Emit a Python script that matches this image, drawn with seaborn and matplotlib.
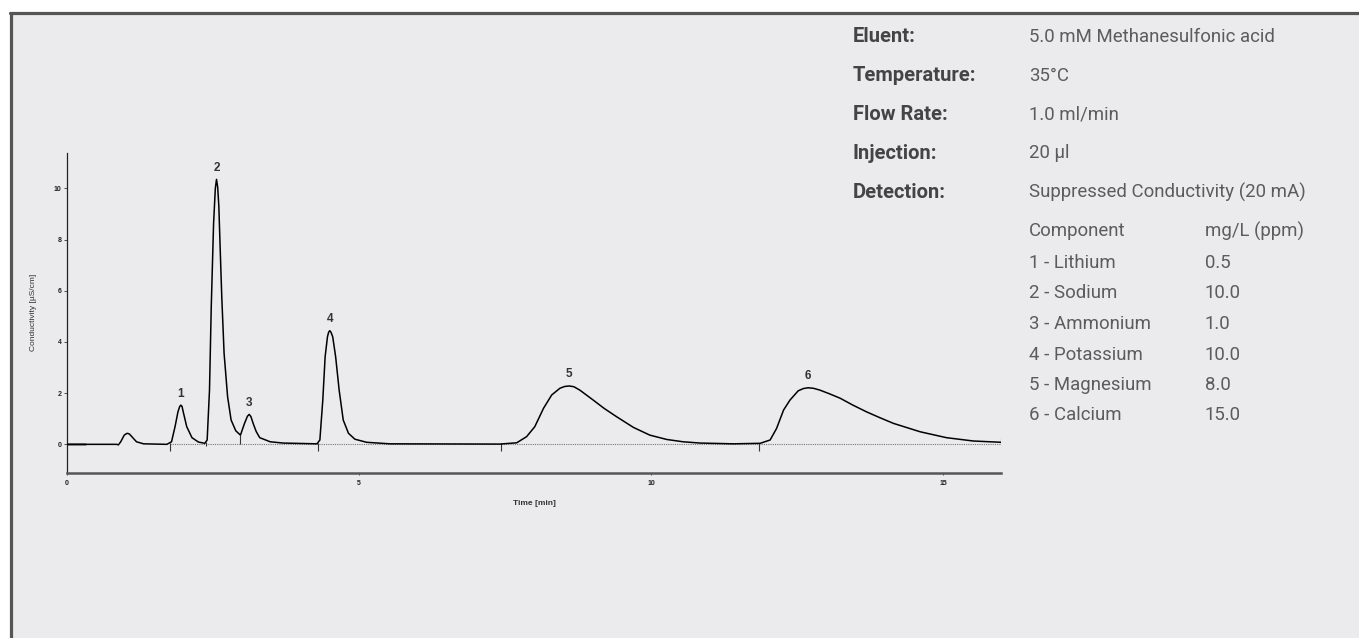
import matplotlib
matplotlib.use("Agg")
import matplotlib.pyplot as plt
import seaborn as sns
import pandas as pd
from matplotlib.patches import Rectangle
from matplotlib.lines import Line2D

# Chromatogram trace (time in min, conductivity in uS/cm)
trace_time = [0.0, 0.85, 0.88, 0.92, 0.98, 1.02, 1.04, 1.07, 1.11, 1.19, 1.31, 1.71,
              1.79, 1.85, 1.90, 1.93, 1.95, 1.97, 1.99, 2.05, 2.14, 2.25, 2.36,
              2.40, 2.44, 2.47, 2.51, 2.54, 2.56, 2.58, 2.60, 2.62, 2.65, 2.69, 2.75,
              2.81, 2.89, 2.97,
              3.04, 3.09, 3.12, 3.15, 3.19, 3.24, 3.30, 3.48, 3.70, 4.28,
              4.33, 4.38, 4.42, 4.46, 4.48, 4.50, 4.52, 4.55, 4.60, 4.66, 4.73, 4.82, 4.93,
              5.13, 5.53, 7.41,
              7.70, 7.87, 8.01, 8.16, 8.30, 8.44, 8.52, 8.60, 8.68, 8.78, 9.01, 9.20, 9.41,
              9.70, 9.98, 10.27, 10.55, 10.84, 11.41, 11.87,
              12.04, 12.15, 12.27, 12.38, 12.52, 12.61, 12.69, 12.78, 12.89, 13.05, 13.24,
              13.45, 13.69, 13.92, 14.15, 14.61, 15.06, 15.52, 16.00]
trace_signal = [0.0, 0.0, -0.02, 0.10, 0.36, 0.42, 0.43, 0.40, 0.30, 0.10, 0.02, 0.0,
                0.10, 0.69, 1.27, 1.48, 1.53, 1.48, 1.27, 0.69, 0.26, 0.09, 0.04,
                0.17, 2.12, 5.37, 8.63, 10.0, 10.35, 10.05, 9.30, 7.85, 5.77, 3.55, 1.86,
                0.95, 0.53, 0.36,
                0.82, 1.10, 1.17, 1.08, 0.80, 0.50, 0.26, 0.10, 0.05, 0.02,
                0.17, 1.73, 3.42, 4.20, 4.38, 4.44, 4.38, 4.20, 3.42, 2.12, 0.95, 0.43, 0.20,
                0.08, 0.02, 0.01,
                0.06, 0.30, 0.69, 1.41, 1.93, 2.19, 2.26, 2.28, 2.25, 2.12, 1.73, 1.40, 1.08,
                0.66, 0.36, 0.19, 0.10, 0.05, 0.02, 0.04,
                0.17, 0.62, 1.34, 1.73, 2.09, 2.18, 2.21, 2.19, 2.12, 1.98, 1.80,
                1.54, 1.27, 1.04, 0.82, 0.49, 0.26, 0.13, 0.08]

# peak labels
peak_ids = ["1", "2", "3", "4", "5", "6"]
peak_time = [1.95, 2.56, 3.12, 4.50, 8.60, 12.69]
peak_height = [1.53, 10.35, 1.17, 4.44, 2.28, 2.21]

# integration markers (small vertical ticks along the baseline)
marker_time = [1.76, 2.38, 2.97, 4.30, 7.44, 11.85, 16.0]
marker_low = [-0.25, -0.05, 0.0, -0.25, -0.25, -0.25, 0.0]
marker_high = [0.05, 0.10, 0.36, 0.05, 0.05, 0.05, 0.25]

# conditions table
cond_labels = ["Eluent:", "Temperature:", "Flow Rate:", "Injection:", "Detection:"]
cond_values = ["5.0 mM Methanesulfonic acid", "35°C", "1.0 ml/min", "20 µl",
               "Suppressed Conductivity (20 mA)"]
comp_names = ["1 - Lithium", "2 - Sodium", "3 - Ammonium", "4 - Potassium",
              "5 - Magnesium", "6 - Calcium"]
comp_conc = ["0.5", "10.0", "1.0", "10.0", "8.0", "15.0"]

sns.set_theme(style="ticks")
txt_font = ["Roboto", "DejaVu Sans"]
plt.rcParams["font.family"] = ["Liberation Sans", "DejaVu Sans"]

W, H = 1359, 638
fig = plt.figure(figsize=(W / 100, H / 100), dpi=100)
fig.patch.set_facecolor("white")

# grey panel with dark border on top and left
fig.patches.append(Rectangle((11 / W, 0), 1, (H - 13) / H, transform=fig.transFigure,
                             facecolor="#ebebed", edgecolor="none", zorder=-10))
fig.lines.append(Line2D([10 / W, 1], [(H - 13) / H] * 2, transform=fig.transFigure,
                        color="#555555", lw=2.3))
fig.lines.append(Line2D([11 / W] * 2, [0, (H - 13) / H], transform=fig.transFigure,
                        color="#555555", lw=2.3))

ax = fig.add_axes([67 / W, (H - 472.5) / H, (1001.4 - 67) / W, 320 / H])
ax.set_facecolor("none")

df = pd.DataFrame({"time": trace_time, "signal": trace_signal})
ax.axhline(0, xmin=1.76 / 16, xmax=1, color="#777777", lw=0.8, ls=(0, (1, 1)), zorder=1)
ax.plot([0, 0.3], [0, 0], color="#888888", lw=2, zorder=1)
sns.lineplot(data=df, x="time", y="signal", ax=ax, color="black", lw=1.1,
             estimator=None, sort=False, zorder=3)
ax.vlines(marker_time, marker_low, marker_high, color="#333333", lw=0.8, zorder=2)

for lab, t, h in zip(peak_ids, peak_time, peak_height):
    ax.annotate(lab, (t, h), xytext=(0, 4), textcoords="offset points",
                ha="center", va="bottom", fontsize=8.5, fontweight="bold", color="#333333")

ax.set_xlim(0, 16)
ax.set_ylim(-1.1, 11.4)
ax.set_xticks([0, 5, 10, 15])
ax.set_yticks([0, 2, 4, 6, 8, 10])
for lbl in ax.get_xticklabels() + ax.get_yticklabels():
    lbl.set_fontsize(5)
    lbl.set_fontweight("bold")
    lbl.set_color("#222222")
ax.tick_params(axis="y", length=2, width=0.6, pad=2, color="#333333")
ax.tick_params(axis="x", length=1.5, width=0.6, pad=4, color="#333333")
ax.set_xlabel("Time [min]", fontsize=6, fontweight="bold", color="#333333", labelpad=9)
ax.set_ylabel("Conductivity [µS/cm]", fontsize=6, color="#333333", labelpad=12)
sns.despine(ax=ax)
ax.spines["left"].set_color("#222222")
ax.spines["left"].set_linewidth(0.9)
ax.spines["bottom"].set_color("#555555")
ax.spines["bottom"].set_linewidth(1.8)

# conditions block
x_lab, x_val, x_conc = 853 / W, 1029 / W, 1205 / W
fs_lab, fs_val = 14.5, 13.4
val_col = "#5c5c5c"
for i, (lab, val) in enumerate(zip(cond_labels, cond_values)):
    y = 1 - (37 + 38.8 * i) / H
    fig.text(x_lab, y, lab, family=txt_font, fontsize=fs_lab, fontweight="bold",
             color="#444444", va="center")
    fig.text(x_val, y, val, family=txt_font, fontsize=fs_val,
             color=val_col, va="center")

y = 1 - 231 / H
fig.text(x_val, y, "Component", family=txt_font, fontsize=fs_val,
         color=val_col, va="center")
fig.text(x_conc, y, "mg/L (ppm)", family=txt_font, fontsize=fs_val,
         color=val_col, va="center")
for i, (name, conc) in enumerate(zip(comp_names, comp_conc)):
    y = 1 - (263 + 30.5 * i) / H
    fig.text(x_val, y, name, family=txt_font, fontsize=fs_val,
             color=val_col, va="center")
    fig.text(x_conc, y, conc, family=txt_font, fontsize=fs_val,
             color=val_col, va="center")

fig.savefig("out.png", dpi=100)
